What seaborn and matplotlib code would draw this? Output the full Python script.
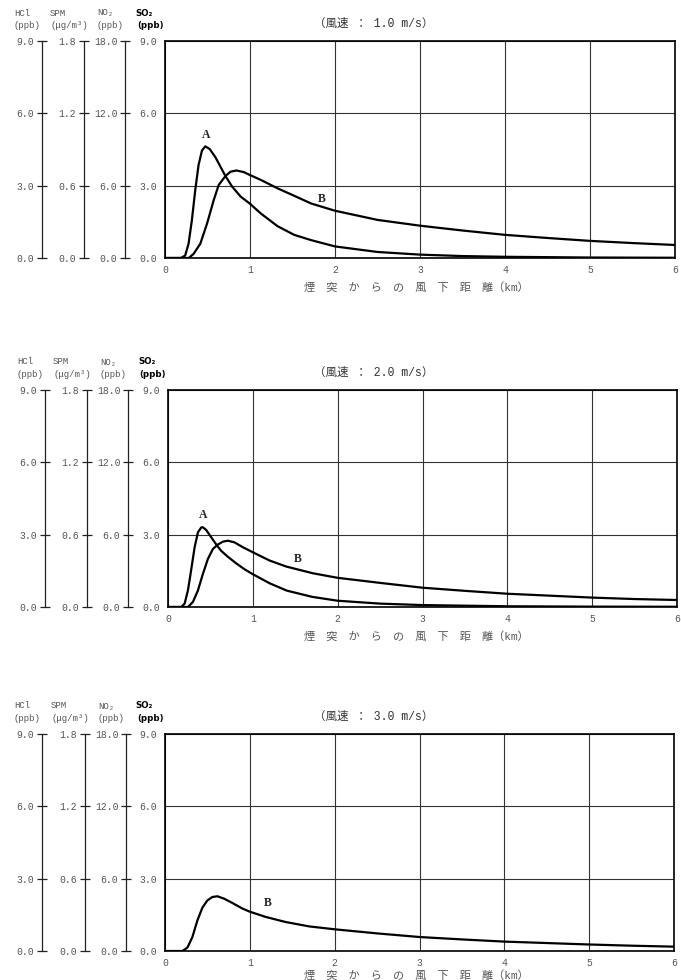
"""
煙突からの風下距離別 SO2 濃度 (風速 1.0 / 2.0 / 3.0 m/s)
"""
import pandas as pd
import matplotlib
matplotlib.use("Agg")
import matplotlib.pyplot as plt
import seaborn as sns

sns.set_style("white")
plt.rcParams["font.family"] = ["Liberation Mono", "Noto Sans CJK JP", "DejaVu Sans"]

# ── データ ───────────────────────────────────────────────────────
# 風速 1.0 m/s
dist_a1 = [0.0, 0.186, 0.237, 0.277, 0.316, 0.356, 0.395, 0.435, 0.474, 0.526, 0.593,
           0.652, 0.711, 0.79, 0.889, 1.0, 1.126, 1.324, 1.52, 1.72, 2.0, 2.5, 3.0,
           3.5, 4.0, 5.0, 6.0]
so2_a1 = [0.0, 0.0, 0.1, 0.59, 1.56, 2.82, 3.86, 4.46, 4.63, 4.52, 4.18,
          3.79, 3.40, 2.96, 2.55, 2.25, 1.85, 1.32, 0.96, 0.74, 0.48, 0.25, 0.14,
          0.08, 0.05, 0.02, 0.01]
dist_b1 = [0.0, 0.28, 0.336, 0.415, 0.494, 0.573, 0.632, 0.711, 0.771, 0.842, 0.929,
           1.0, 1.126, 1.324, 1.52, 1.72, 2.0, 2.5, 3.0, 3.5, 4.0, 4.5, 5.0, 5.5, 6.0]
so2_b1 = [0.0, 0.0, 0.17, 0.59, 1.42, 2.40, 3.03, 3.40, 3.58, 3.63, 3.56,
          3.44, 3.24, 2.89, 2.58, 2.26, 1.96, 1.58, 1.34, 1.14, 0.96, 0.83, 0.71, 0.62, 0.54]

# 風速 2.0 m/s
dist_a2 = [0.0, 0.157, 0.196, 0.235, 0.275, 0.314, 0.353, 0.392, 0.41, 0.451, 0.51,
           0.569, 0.627, 0.7, 0.8, 0.9, 1.0, 1.2, 1.4, 1.7, 2.0, 2.5, 3.0, 4.0, 5.0, 6.0]
so2_a2 = [0.0, 0.0, 0.14, 0.69, 1.58, 2.48, 3.10, 3.30, 3.31, 3.19, 2.89,
          2.59, 2.33, 2.10, 1.82, 1.57, 1.36, 0.98, 0.68, 0.42, 0.26, 0.14, 0.08, 0.03, 0.015, 0.01]
dist_b2 = [0.0, 0.235, 0.294, 0.353, 0.412, 0.47, 0.53, 0.588, 0.647, 0.706, 0.784,
           0.882, 1.0, 1.196, 1.392, 1.706, 2.0, 2.5, 3.0, 3.5, 4.0, 4.5, 5.0, 5.5, 6.0]
so2_b2 = [0.0, 0.0, 0.21, 0.69, 1.38, 1.99, 2.41, 2.59, 2.71, 2.75, 2.68,
          2.48, 2.27, 1.93, 1.68, 1.40, 1.21, 1.00, 0.80, 0.67, 0.55, 0.47, 0.39, 0.33, 0.29]

# 風速 3.0 m/s
dist_b3 = [0.0, 0.205, 0.264, 0.323, 0.382, 0.441, 0.5, 0.559, 0.618, 0.697, 0.795,
           0.913, 1.0, 1.19, 1.425, 1.7, 2.0, 2.5, 3.0, 3.5, 4.0, 4.5, 5.0, 5.5, 6.0]
so2_b3 = [0.0, 0.0, 0.14, 0.58, 1.27, 1.80, 2.10, 2.24, 2.27, 2.17, 1.99,
          1.76, 1.63, 1.41, 1.20, 1.02, 0.90, 0.73, 0.58, 0.48, 0.39, 0.33, 0.27, 0.22, 0.18]

titles = ["（風速 ： 1.0 m/s）", "（風速 ： 2.0 m/s）", "（風速 ： 3.0 m/s）"]
curve_labels = [[("A", 0.48, 5.12), ("B", 1.84, 2.45)],
                [("A", 0.42, 3.81), ("B", 1.53, 1.98)],
                [("B", 1.21, 1.99)]]

so2_ticks = [0.0, 3.0, 6.0, 9.0]
hcl_ticks = [0.0, 3.0, 6.0, 9.0]
spm_ticks = [0.0, 0.6, 1.2, 1.8]
no2_ticks = [0.0, 6.0, 12.0, 18.0]
x_ticks = [0, 1, 2, 3, 4, 5, 6]
xlabel = "煙　突　か　ら　の　風　下　距　離（km）"

curves = [
    [pd.DataFrame({"dist": dist_a1, "so2": so2_a1}), pd.DataFrame({"dist": dist_b1, "so2": so2_b1})],
    [pd.DataFrame({"dist": dist_a2, "so2": so2_a2}), pd.DataFrame({"dist": dist_b2, "so2": so2_b2})],
    [pd.DataFrame({"dist": dist_b3, "so2": so2_b3})],
]

# ── レイアウト (ピクセル) ───────────────────────────────────────────────
W, H = 681, 980
PH = 217
panels = [dict(top=41, left=165, right=675, scales=(42, 84, 125), xlab=29),
          dict(top=390, left=168, right=677, scales=(45, 87, 128), xlab=29),
          dict(top=734, left=165, right=674, scales=(42, 85, 126), xlab=24)]

GRAY = "#555555"
fig = plt.figure(figsize=(W / 100, H / 100), dpi=100)


def ftext(px, py, s, **kw):
    fig.text(px / W, 1 - py / H, s, **kw)


for i, p in enumerate(panels):
    top, left, right = p["top"], p["left"], p["right"]
    bottom = top + PH
    ax = fig.add_axes([left / W, 1 - bottom / H, (right - left) / W, PH / H])
    for df in curves[i]:
        sns.lineplot(data=df, x="dist", y="so2", ax=ax, color="black", lw=1.6,
                     estimator=None, sort=False, solid_joinstyle="round")
    ax.set_xlim(0, 6)
    ax.set_ylim(0, 9)
    ax.set_xticks(x_ticks)
    ax.set_xticklabels([str(v) for v in x_ticks])
    ax.set_yticks(so2_ticks)
    ax.set_yticklabels([f"{v:.1f}" for v in so2_ticks])
    ax.set_xlabel("")
    ax.set_ylabel("")
    ax.grid(True, color="#333333", lw=0.8)
    ax.tick_params(axis="both", length=0, labelsize=7, labelcolor=GRAY)
    ax.tick_params(axis="y", pad=6)
    ax.tick_params(axis="x", pad=5)
    for sp in ax.spines.values():
        sp.set_color("black")
        sp.set_linewidth(1.2)

    for lab, lx, ly in curve_labels[i]:
        ax.text(lx, ly, lab, ha="center", va="center", fontsize=8.5,
                family="Liberation Serif", fontweight="bold", color="#222222")

    ftext(374, top - 17, titles[i], ha="center", va="center", fontsize=8.3, color="#333333")
    ftext(416, bottom + p["xlab"], xlabel, ha="center", va="center", fontsize=8, color=GRAY)

    # 左側の換算目盛 (HCl, SPM, NO2)
    for sx, ticks in zip(p["scales"], [hcl_ticks, spm_ticks, no2_ticks]):
        sa = fig.add_axes([sx / W, 1 - bottom / H, 0.0001, PH / H])
        sa.set_facecolor("none")
        for name in ["top", "right", "bottom"]:
            sa.spines[name].set_visible(False)
        sa.spines["left"].set_color("#222222")
        sa.spines["left"].set_linewidth(0.9)
        sa.set_ylim(ticks[0], ticks[-1])
        sa.set_yticks(ticks)
        sa.set_yticklabels([f"{v:.1f}" for v in ticks])
        sa.set_xticks([])
        sa.tick_params(axis="y", left=True, direction="inout", length=7, width=0.9,
                       color="#222222", labelsize=7, labelcolor=GRAY, pad=2)

    # 見出し
    hx = p["scales"]
    ftext(hx[0] - 20, top - 28, "HCl", ha="center", va="center", fontsize=6.5, color=GRAY)
    ftext(hx[0] - 15, top - 16, "(ppb)", ha="center", va="center", fontsize=6.5, color=GRAY)
    ftext(hx[1] - 26, top - 28, "SPM", ha="center", va="center", fontsize=6.5, color=GRAY)
    ftext(hx[1] - 15, top - 16, "(μg/m³)", ha="center", va="center", fontsize=6.5, color=GRAY)
    ftext(hx[2] - 20, top - 28, "NO₂", ha="center", va="center", fontsize=6.5, color=GRAY)
    ftext(hx[2] - 15, top - 16, "(ppb)", ha="center", va="center", fontsize=6.5, color=GRAY)
    ftext(left - 21, top - 28, "SO₂", ha="center", va="center", fontsize=6.2,
          family="DejaVu Sans", fontweight="bold", color="black")
    ftext(left - 15, top - 16, "(ppb)", ha="center", va="center", fontsize=6.2,
          family="DejaVu Sans", fontweight="bold", color="black")

fig.savefig("out.png", dpi=100)
plt.close()
